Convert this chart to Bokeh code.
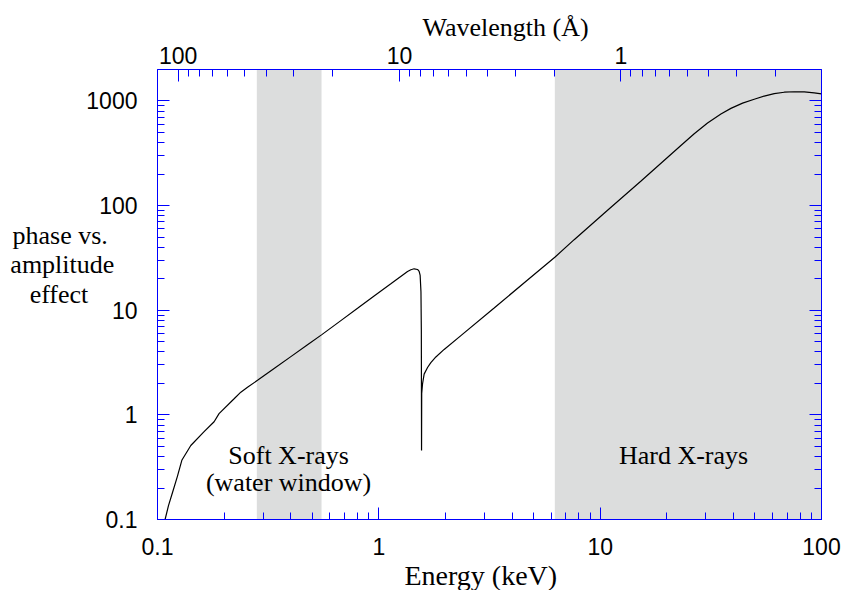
from bokeh.plotting import figure
from bokeh.models import (LogAxis, LogScale, Range1d, FixedTicker, BoxAnnotation,
                          Label, Title, CustomJSTickFormatter)
from bokeh.embed import file_html
from bokeh.resources import INLINE

# Phase-contrast vs. absorption-contrast ratio across the X-ray range
energy_kev = [0.1082, 0.1121, 0.1169, 0.1231, 0.1288, 0.1414, 0.1624, 0.1802,
              0.1897, 0.2219, 0.2379, 0.2551, 0.2831, 0.3364, 0.4004, 0.4763,
              0.5527, 0.6735, 0.8014, 0.952, 1.133, 1.348, 1.3955, 1.444,
              1.4958, 1.5211, 1.537, 1.550, 1.556, 1.5595,
              1.562, 1.5755, 1.602, 1.660, 1.718, 1.810, 1.973, 2.348, 3.319,
              4.698, 6.24, 7.63, 10.8, 15.3, 23.16, 26.6, 30.56, 35.12,
              38.96, 44.0, 49.66, 55.11, 61.14, 67.85, 75.3, 83.6, 92.7, 100.0]
ratio = [0.1, 0.1356, 0.181, 0.260, 0.368, 0.51, 0.691, 0.859,
         1.029, 1.425, 1.648, 1.837, 2.139, 2.776, 3.603, 4.676,
         5.848, 7.96, 10.44, 13.67, 17.89, 23.49, 24.37, 24.9,
         24.53, 23.49, 21.5, 15.0, 6.5, 0.457,
         1.6, 1.974, 2.453, 2.836, 3.162, 3.579, 4.222, 5.722, 10.51,
         19.48, 32.1, 47.26, 90.3, 172.1, 376.0, 487.0, 617.0, 752.0,
         850.0, 955.0, 1040.0, 1115.0, 1178.0, 1213.0, 1225.0, 1222.0, 1198.0, 1172.0]

# Shaded bands: water window and hard X-rays (keV)
band_lo = [0.281, 6.24]
band_hi = [0.551, 100.0]

# Tick values and labels
energy_ticks = [0.1, 1, 10, 100]
energy_tick_labels = ["0.1", "1", "10", "100"]
energy_minor = [m * d for d in (0.1, 1, 10) for m in range(2, 10)]
ratio_ticks = [0.1, 1, 10, 100, 1000]
ratio_tick_labels = ["0.1", "1", "10", "100", "1000"]
ratio_minor = [m * d for d in (0.1, 1, 10, 100) for m in range(2, 10)]
wl_ticks = [1, 10, 100]
wl_tick_labels = ["1", "10", "100"]
wl_minor = [m * d for d in (0.1, 1, 10) for m in range(2, 10)]

HC = 12.398  # keV * Angstrom

AXIS_BLUE = "#0000ff"
SANS = "Liberation Sans"
SERIF = "Liberation Serif"
NBSP = "\u00a0"

p = figure(width=845, height=590, x_axis_type="log", y_axis_type="log",
           x_range=Range1d(0.1, 100), y_range=Range1d(0.1, 2000),
           output_backend="svg", toolbar_location=None,
           min_border_left=157, min_border_right=24,
           min_border_top=69, min_border_bottom=66)
p.outline_line_color = AXIS_BLUE
p.outline_line_width = 1
p.grid.visible = False
p.background_fill_color = "white"

for lo, hi in zip(band_lo, band_hi):
    p.add_layout(BoxAnnotation(left=lo, right=hi, fill_color="#dcdddd",
                               fill_alpha=1.0, line_color=None, level="underlay"))

p.line(energy_kev, ratio, line_color="black", line_width=1.2)


def style_axis(ax, ticks, minor, labels):
    ax.ticker = FixedTicker(ticks=ticks, minor_ticks=minor)
    ax.major_label_overrides = {t: s for t, s in zip(ticks, labels)}
    ax.axis_line_color = AXIS_BLUE
    ax.axis_line_width = 1
    ax.major_tick_line_color = AXIS_BLUE
    ax.minor_tick_line_color = AXIS_BLUE
    ax.major_tick_in = 12
    ax.major_tick_out = 0
    ax.minor_tick_in = 7
    ax.minor_tick_out = 0
    ax.major_label_text_font = SANS
    ax.major_label_text_font_size = "23px"
    ax.major_label_text_color = "black"
    ax.axis_label_text_font = SERIF
    ax.axis_label_text_font_size = "26px"
    ax.axis_label_text_font_style = "normal"
    ax.axis_label_text_color = "black"


xb = p.xaxis[0]
style_axis(xb, energy_ticks, energy_minor, energy_tick_labels)
xb.major_label_standoff = 18

yl = p.yaxis[0]
style_axis(yl, ratio_ticks, ratio_minor, ratio_tick_labels)
yl.major_label_standoff = 20
# Horizontal three-line title left of the tick labels; the short lines are
# padded so that the block reads as centred, blank lines lift it upward.
yl.axis_label = ("phase vs." + NBSP + "\namplitude\neffect" + NBSP * 4 + "\n\n")
yl.axis_label_orientation = "horizontal"
yl.axis_label_text_line_height = 1.02
yl.axis_label_standoff = -31

# Wavelength axis on top
p.extra_x_ranges = {"wl": Range1d(start=HC / 0.1, end=HC / 100)}
p.extra_x_scales = {"wl": LogScale()}
xt = LogAxis(x_range_name="wl")
style_axis(xt, wl_ticks, wl_minor, wl_tick_labels)
xt.major_label_standoff = 6
p.add_layout(xt, "above")

# Right axis: ticks only
yr = LogAxis()
style_axis(yr, ratio_ticks, ratio_minor, ratio_tick_labels)
yr.formatter = CustomJSTickFormatter(code="return ''")
yr.major_label_overrides = {}
yr.major_label_standoff = 0
p.add_layout(yr, "right")

# Axis titles
p.add_layout(Title(text="Wavelength (Å)", align="left", offset=265,
                   text_font=SERIF, text_font_size="26px",
                   text_font_style="normal", text_color="black",
                   standoff=4), "above")
p.add_layout(Title(text="Energy (keV)", align="left", offset=247,
                   text_font=SERIF, text_font_size="28px",
                   text_font_style="normal", text_color="black",
                   standoff=0), "below")

# Band captions
cap = dict(text_align="center", text_baseline="alphabetic", text_font=SERIF,
           text_font_size="26px", text_color="black")
p.add_layout(Label(x=0.391, y=0.41, text="Soft X-rays", **cap))
p.add_layout(Label(x=0.391, y=0.225, text="(water window)", **cap))
p.add_layout(Label(x=23.8, y=0.41, text="Hard X-rays", **cap))

open("out.html", "w").write(file_html(p, INLINE))
